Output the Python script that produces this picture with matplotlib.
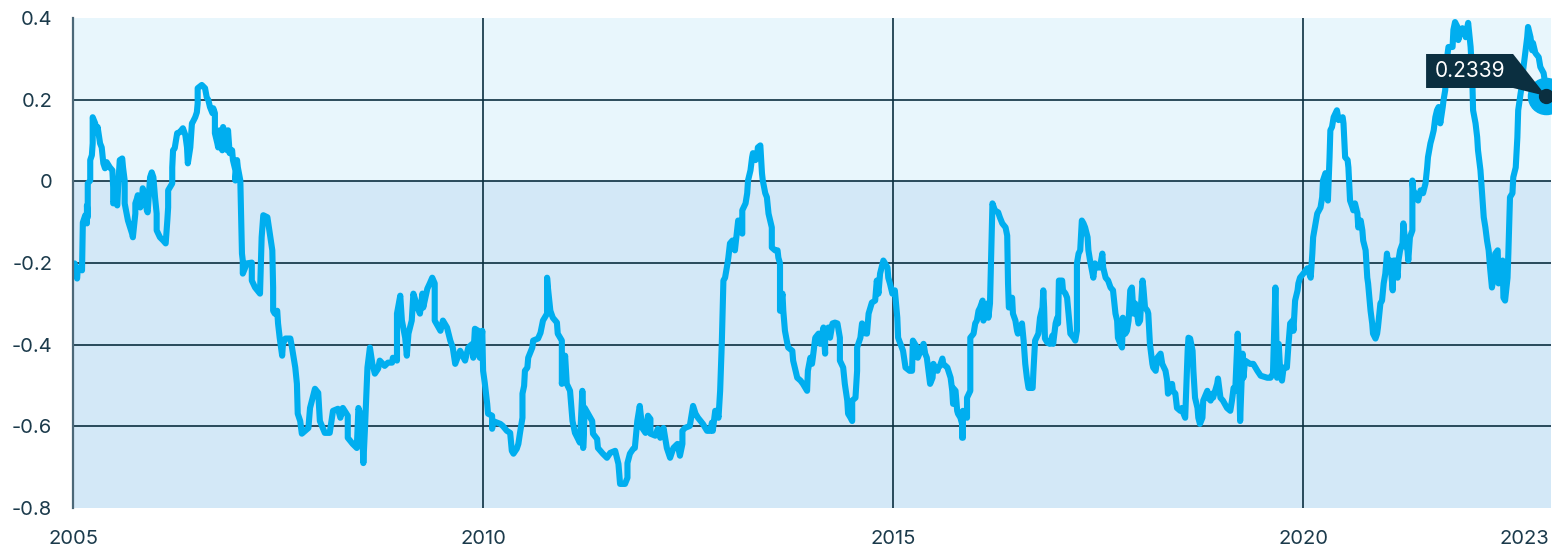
import matplotlib
matplotlib.use("Agg")
import matplotlib.pyplot as plt
import matplotlib.transforms as mtransforms
from matplotlib.patches import Polygon

# rolling correlation (decimal years)
years = [2005.00, 2005.02, 2005.05, 2005.06, 2005.11, 2005.12, 2005.15, 2005.17, 2005.17, 2005.18, 2005.18, 2005.21, 2005.21, 2005.23, 2005.24, 2005.24, 2005.27, 2005.29, 2005.30, 2005.33, 2005.35, 2005.37, 2005.39, 2005.41, 2005.45, 2005.48, 2005.49, 2005.49, 2005.51, 2005.54, 2005.55, 2005.57, 2005.60, 2005.61, 2005.63, 2005.63, 2005.67, 2005.72, 2005.73, 2005.76, 2005.76, 2005.78, 2005.79, 2005.82, 2005.84, 2005.85, 2005.88, 2005.90, 2005.91, 2005.94, 2005.96, 2005.98,
         2006.00, 2006.02, 2006.02, 2006.06, 2006.10, 2006.13, 2006.15, 2006.16, 2006.16, 2006.18, 2006.21, 2006.21, 2006.22, 2006.24, 2006.27, 2006.30, 2006.34, 2006.37, 2006.39, 2006.40, 2006.43, 2006.45, 2006.46, 2006.49, 2006.51, 2006.52, 2006.52, 2006.57, 2006.61, 2006.63, 2006.65, 2006.67, 2006.70, 2006.71, 2006.73, 2006.73, 2006.76, 2006.77, 2006.79, 2006.82, 2006.83, 2006.85, 2006.88, 2006.89, 2006.91, 2006.94, 2006.95, 2006.98, 2006.98,
         2007.00, 2007.01, 2007.04, 2007.06, 2007.07, 2007.07, 2007.12, 2007.18, 2007.18, 2007.22, 2007.28, 2007.30, 2007.32, 2007.37, 2007.43, 2007.44, 2007.44, 2007.46, 2007.49, 2007.50, 2007.52, 2007.55, 2007.56, 2007.59, 2007.65, 2007.67, 2007.71, 2007.73, 2007.74, 2007.77, 2007.79, 2007.87, 2007.89, 2007.95, 2007.99,
         2008.01, 2008.07, 2008.13, 2008.17, 2008.23, 2008.26, 2008.29, 2008.35, 2008.35, 2008.41, 2008.46, 2008.48, 2008.52, 2008.54, 2008.56, 2008.59, 2008.62, 2008.65, 2008.68, 2008.72, 2008.74, 2008.80, 2008.84, 2008.89, 2008.90, 2008.95, 2008.95, 2008.99,
         2009.01, 2009.05, 2009.07, 2009.09, 2009.13, 2009.15, 2009.20, 2009.23, 2009.26, 2009.27, 2009.32, 2009.35, 2009.38, 2009.41, 2009.41, 2009.48, 2009.51, 2009.56, 2009.60, 2009.63, 2009.66, 2009.72, 2009.78, 2009.82, 2009.87, 2009.88, 2009.90, 2009.94, 2009.96, 2009.99,
         2010.00, 2010.02, 2010.05, 2010.06, 2010.11, 2010.11, 2010.12, 2010.17, 2010.21, 2010.24, 2010.29, 2010.33, 2010.35, 2010.37, 2010.41, 2010.43, 2010.45, 2010.48, 2010.48, 2010.50, 2010.51, 2010.54, 2010.55, 2010.60, 2010.61, 2010.67, 2010.70, 2010.73, 2010.78, 2010.78, 2010.79, 2010.82, 2010.85, 2010.90, 2010.91, 2010.96, 2010.96,
         2011.00, 2011.02, 2011.06, 2011.09, 2011.12, 2011.15, 2011.18, 2011.21, 2011.22, 2011.22, 2011.24, 2011.28, 2011.33, 2011.34, 2011.39, 2011.40, 2011.46, 2011.51, 2011.55, 2011.61, 2011.65, 2011.67, 2011.73, 2011.76, 2011.76, 2011.79, 2011.83, 2011.85, 2011.88, 2011.91, 2011.94, 2011.98,
         2012.01, 2012.04, 2012.04, 2012.10, 2012.13, 2012.16, 2012.20, 2012.24, 2012.28, 2012.32, 2012.37, 2012.40, 2012.43, 2012.43, 2012.46, 2012.52, 2012.56, 2012.59, 2012.62, 2012.68, 2012.73, 2012.77, 2012.79, 2012.80, 2012.83, 2012.85, 2012.87, 2012.89, 2012.91, 2012.93, 2012.95, 2012.98, 2012.99,
         2013.01, 2013.04, 2013.05, 2013.07, 2013.10, 2013.11, 2013.13, 2013.16, 2013.16, 2013.20, 2013.22, 2013.23, 2013.26, 2013.28, 2013.29, 2013.32, 2013.34, 2013.35, 2013.38, 2013.40, 2013.41, 2013.44, 2013.46, 2013.48, 2013.50, 2013.52, 2013.52, 2013.56, 2013.59, 2013.60, 2013.62, 2013.62, 2013.65, 2013.66, 2013.68, 2013.71, 2013.72, 2013.77, 2013.78, 2013.83, 2013.87, 2013.90, 2013.95, 2013.96, 2013.99,
         2014.01, 2014.02, 2014.05, 2014.09, 2014.11, 2014.15, 2014.17, 2014.17, 2014.21, 2014.23, 2014.26, 2014.29, 2014.32, 2014.35, 2014.35, 2014.39, 2014.41, 2014.44, 2014.45, 2014.48, 2014.50, 2014.50, 2014.54, 2014.56, 2014.56, 2014.60, 2014.62, 2014.63, 2014.68, 2014.70, 2014.74, 2014.78, 2014.80, 2014.82, 2014.84, 2014.88, 2014.93, 2014.94, 2014.96, 2014.99,
         2015.02, 2015.05, 2015.06, 2015.12, 2015.15, 2015.20, 2015.23, 2015.24, 2015.29, 2015.30, 2015.35, 2015.37, 2015.39, 2015.41, 2015.43, 2015.45, 2015.48, 2015.49, 2015.51, 2015.54, 2015.55, 2015.57, 2015.60, 2015.61, 2015.66, 2015.70, 2015.72, 2015.73, 2015.73, 2015.76, 2015.78, 2015.79, 2015.82, 2015.84, 2015.84, 2015.85, 2015.85, 2015.90, 2015.90, 2015.94, 2015.94, 2015.98,
         2016.00, 2016.02, 2016.04, 2016.06, 2016.09, 2016.10, 2016.12, 2016.15, 2016.16, 2016.18, 2016.21, 2016.24, 2016.28, 2016.30, 2016.33, 2016.37, 2016.39, 2016.40, 2016.41, 2016.45, 2016.46, 2016.49, 2016.51, 2016.52, 2016.57, 2016.59, 2016.61, 2016.63, 2016.65, 2016.70, 2016.71, 2016.73, 2016.77, 2016.79, 2016.82, 2016.83, 2016.84, 2016.85, 2016.88, 2016.91, 2016.94, 2016.95, 2016.98,
         2017.00, 2017.01, 2017.02, 2017.06, 2017.07, 2017.10, 2017.12, 2017.16, 2017.20, 2017.22, 2017.24, 2017.24, 2017.26, 2017.28, 2017.30, 2017.32, 2017.34, 2017.37, 2017.38, 2017.40, 2017.43, 2017.44, 2017.46, 2017.49, 2017.52, 2017.55, 2017.56, 2017.59, 2017.62, 2017.65, 2017.68, 2017.71, 2017.73, 2017.74, 2017.77, 2017.79, 2017.80, 2017.83, 2017.85, 2017.87, 2017.89, 2017.91, 2017.93, 2017.95, 2017.98, 2017.99,
         2018.01, 2018.04, 2018.05, 2018.07, 2018.10, 2018.11, 2018.13, 2018.16, 2018.17, 2018.20, 2018.22, 2018.26, 2018.28, 2018.32, 2018.34, 2018.35, 2018.38, 2018.40, 2018.41, 2018.44, 2018.46, 2018.50, 2018.52, 2018.54, 2018.56, 2018.59, 2018.60, 2018.62, 2018.65, 2018.66, 2018.68, 2018.71, 2018.72, 2018.74, 2018.77, 2018.78, 2018.83, 2018.84, 2018.87, 2018.89, 2018.90, 2018.95, 2018.96, 2018.99,
         2019.02, 2019.07, 2019.11, 2019.13, 2019.15, 2019.17, 2019.20, 2019.21, 2019.23, 2019.26, 2019.27, 2019.29, 2019.35, 2019.39, 2019.44, 2019.48, 2019.56, 2019.60, 2019.63, 2019.66, 2019.68, 2019.70, 2019.72, 2019.74, 2019.76, 2019.80, 2019.82, 2019.84, 2019.87, 2019.88, 2019.90, 2019.93, 2019.94, 2019.96,
         2020.00, 2020.05, 2020.09, 2020.11, 2020.12, 2020.15, 2020.17, 2020.21, 2020.23, 2020.24, 2020.27, 2020.29, 2020.30, 2020.32, 2020.33, 2020.35, 2020.37, 2020.41, 2020.43, 2020.48, 2020.49, 2020.51, 2020.54, 2020.55, 2020.57, 2020.60, 2020.61, 2020.63, 2020.66, 2020.67, 2020.70, 2020.72, 2020.73, 2020.76, 2020.78, 2020.79, 2020.82, 2020.84, 2020.85, 2020.88, 2020.90, 2020.91, 2020.94, 2020.96, 2020.98,
         2021.00, 2021.02, 2021.04, 2021.06, 2021.09, 2021.10, 2021.12, 2021.15, 2021.16, 2021.18, 2021.21, 2021.22, 2021.24, 2021.27, 2021.28, 2021.30, 2021.33, 2021.33, 2021.34, 2021.39, 2021.40, 2021.43, 2021.46, 2021.49, 2021.51, 2021.52, 2021.55, 2021.57, 2021.59, 2021.61, 2021.63, 2021.65, 2021.67, 2021.70, 2021.71, 2021.73, 2021.76, 2021.77, 2021.82, 2021.83, 2021.85, 2021.88, 2021.89, 2021.91, 2021.94, 2021.95, 2021.98,
         2022.00, 2022.01, 2022.04, 2022.06, 2022.07, 2022.10, 2022.12, 2022.13, 2022.16, 2022.18, 2022.20, 2022.22, 2022.24, 2022.26, 2022.28, 2022.30, 2022.32, 2022.34, 2022.37, 2022.38, 2022.40, 2022.43, 2022.44, 2022.46, 2022.49, 2022.50, 2022.52, 2022.55, 2022.56, 2022.59, 2022.61, 2022.62, 2022.65, 2022.67, 2022.68, 2022.71, 2022.73, 2022.74, 2022.77, 2022.79, 2022.80, 2022.83, 2022.87, 2022.89, 2022.93, 2022.945, 2022.96]

corr = [-0.205, -0.201, -0.238, -0.211, -0.218, -0.101, -0.083, -0.103, -0.059, -0.088, -0.005, 0.002, 0.052, 0.064, 0.093, 0.157, 0.142, 0.118, 0.133, 0.093, 0.083, 0.044, 0.032, 0.047, 0.034, 0.027, -0.015, -0.054, -0.047, -0.059, -0.015, 0.052, 0.056, 0.034, 0.002, -0.054, -0.096, -0.128, -0.137, -0.079, -0.054, -0.042, -0.034, -0.064, -0.054, -0.017, -0.034, -0.071, -0.076, 0.010, 0.022, 0.010,
        -0.039, -0.079, -0.120, -0.137, -0.145, -0.152, -0.096, -0.064, -0.022, -0.015, -0.005, 0.034, 0.076, 0.081, 0.118, 0.120, 0.130, 0.113, 0.083, 0.044, 0.083, 0.142, 0.145, 0.157, 0.169, 0.191, 0.228, 0.236, 0.228, 0.206, 0.199, 0.182, 0.167, 0.179, 0.167, 0.118, 0.093, 0.083, 0.125, 0.076, 0.133, 0.101, 0.076, 0.125, 0.069, 0.076, 0.052, 0.027, 0.002,
        0.052, 0.034, 0.002, -0.177, -0.194, -0.226, -0.201, -0.199, -0.243, -0.260, -0.275, -0.137, -0.083, -0.088, -0.169, -0.260, -0.317, -0.324, -0.317, -0.348, -0.383, -0.427, -0.398, -0.385, -0.385, -0.407, -0.456, -0.496, -0.569, -0.587, -0.618, -0.604, -0.555, -0.508, -0.518,
        -0.587, -0.616, -0.616, -0.562, -0.557, -0.579, -0.555, -0.574, -0.628, -0.643, -0.653, -0.555, -0.579, -0.690, -0.604, -0.456, -0.407, -0.447, -0.471, -0.459, -0.439, -0.452, -0.444, -0.444, -0.432, -0.439, -0.324, -0.280,
        -0.341, -0.383, -0.427, -0.373, -0.341, -0.275, -0.309, -0.324, -0.275, -0.309, -0.263, -0.250, -0.236, -0.250, -0.341, -0.366, -0.341, -0.358, -0.390, -0.407, -0.447, -0.415, -0.439, -0.407, -0.398, -0.432, -0.361, -0.366, -0.432, -0.366,
        -0.464, -0.493, -0.545, -0.569, -0.574, -0.606, -0.587, -0.591, -0.594, -0.599, -0.611, -0.616, -0.660, -0.667, -0.655, -0.643, -0.616, -0.579, -0.520, -0.501, -0.464, -0.456, -0.432, -0.407, -0.390, -0.385, -0.371, -0.341, -0.324, -0.236, -0.260, -0.317, -0.334, -0.346, -0.373, -0.390, -0.496,
        -0.427, -0.496, -0.513, -0.587, -0.616, -0.628, -0.640, -0.513, -0.555, -0.653, -0.555, -0.569, -0.587, -0.618, -0.631, -0.653, -0.667, -0.677, -0.665, -0.660, -0.692, -0.741, -0.741, -0.726, -0.690, -0.667, -0.655, -0.653, -0.587, -0.550, -0.604, -0.616,
        -0.574, -0.582, -0.618, -0.623, -0.606, -0.628, -0.604, -0.653, -0.677, -0.653, -0.643, -0.672, -0.643, -0.611, -0.604, -0.599, -0.550, -0.569, -0.579, -0.594, -0.611, -0.611, -0.591, -0.611, -0.562, -0.562, -0.579, -0.513, -0.398, -0.243, -0.236, -0.201, -0.187,
        -0.152, -0.145, -0.162, -0.169, -0.113, -0.096, -0.120, -0.128, -0.071, -0.054, -0.029, 0.002, 0.027, 0.059, 0.069, 0.052, 0.059, 0.083, 0.088, 0.020, 0.002, -0.029, -0.039, -0.079, -0.096, -0.113, -0.162, -0.169, -0.169, -0.187, -0.201, -0.317, -0.275, -0.317, -0.366, -0.398, -0.407, -0.415, -0.439, -0.481, -0.488, -0.496, -0.513, -0.464, -0.432,
        -0.447, -0.432, -0.383, -0.373, -0.398, -0.358, -0.422, -0.373, -0.358, -0.383, -0.348, -0.346, -0.348, -0.383, -0.439, -0.456, -0.496, -0.537, -0.569, -0.579, -0.587, -0.537, -0.530, -0.464, -0.407, -0.383, -0.348, -0.371, -0.373, -0.324, -0.297, -0.292, -0.243, -0.275, -0.226, -0.194, -0.211, -0.236, -0.250, -0.275,
        -0.267, -0.334, -0.383, -0.415, -0.456, -0.464, -0.464, -0.390, -0.407, -0.432, -0.407, -0.398, -0.422, -0.432, -0.464, -0.496, -0.481, -0.447, -0.456, -0.464, -0.456, -0.452, -0.434, -0.447, -0.456, -0.481, -0.513, -0.545, -0.506, -0.513, -0.562, -0.569, -0.579, -0.594, -0.628, -0.628, -0.562, -0.579, -0.530, -0.513, -0.383, -0.373,
        -0.348, -0.341, -0.317, -0.309, -0.292, -0.341, -0.317, -0.299, -0.334, -0.299, -0.054, -0.071, -0.076, -0.088, -0.103, -0.113, -0.133, -0.250, -0.309, -0.285, -0.324, -0.341, -0.366, -0.373, -0.348, -0.390, -0.447, -0.481, -0.506, -0.506, -0.464, -0.390, -0.373, -0.334, -0.309, -0.267, -0.309, -0.385, -0.395, -0.398, -0.378, -0.398, -0.348,
        -0.334, -0.348, -0.243, -0.243, -0.267, -0.275, -0.285, -0.373, -0.383, -0.390, -0.366, -0.201, -0.177, -0.169, -0.096, -0.103, -0.113, -0.137, -0.169, -0.194, -0.226, -0.236, -0.201, -0.211, -0.211, -0.177, -0.211, -0.236, -0.243, -0.260, -0.267, -0.324, -0.341, -0.383, -0.398, -0.407, -0.334, -0.373, -0.366, -0.341, -0.267, -0.260, -0.324, -0.299, -0.334, -0.348,
        -0.341, -0.243, -0.260, -0.309, -0.317, -0.324, -0.398, -0.447, -0.456, -0.464, -0.432, -0.422, -0.447, -0.464, -0.488, -0.520, -0.513, -0.496, -0.513, -0.520, -0.555, -0.562, -0.555, -0.569, -0.579, -0.415, -0.383, -0.385, -0.415, -0.464, -0.530, -0.555, -0.579, -0.594, -0.579, -0.537, -0.513, -0.530, -0.537, -0.520, -0.530, -0.496, -0.483, -0.530,
        -0.537, -0.555, -0.562, -0.537, -0.506, -0.513, -0.373, -0.415, -0.587, -0.422, -0.481, -0.439, -0.447, -0.447, -0.464, -0.476, -0.481, -0.481, -0.471, -0.260, -0.481, -0.398, -0.471, -0.488, -0.456, -0.456, -0.398, -0.348, -0.341, -0.366, -0.292, -0.267, -0.250, -0.236,
        -0.226, -0.213, -0.236, -0.177, -0.137, -0.103, -0.079, -0.064, -0.039, 0.002, 0.020, 0.010, -0.047, 0.059, 0.125, 0.133, 0.157, 0.174, 0.150, 0.157, 0.142, 0.059, 0.052, 0.034, -0.047, -0.064, -0.071, -0.054, -0.079, -0.113, -0.096, -0.120, -0.145, -0.169, -0.236, -0.250, -0.317, -0.348, -0.373, -0.385, -0.373, -0.358, -0.299, -0.292, -0.250,
        -0.226, -0.177, -0.218, -0.194, -0.267, -0.194, -0.194, -0.236, -0.194, -0.169, -0.152, -0.103, -0.145, -0.169, -0.194, -0.137, -0.120, 0.002, -0.022, -0.039, -0.047, -0.022, -0.029, -0.005, 0.034, 0.059, 0.093, 0.108, 0.125, 0.157, 0.174, 0.182, 0.142, 0.182, 0.199, 0.223, 0.314, 0.329, 0.329, 0.371, 0.390, 0.378, 0.346, 0.363, 0.375, 0.371, 0.353,
        0.378, 0.388, 0.329, 0.255, 0.174, 0.142, 0.108, 0.076, 0.027, -0.029, -0.088, -0.113, -0.145, -0.169, -0.218, -0.260, -0.236, -0.177, -0.169, -0.250, -0.211, -0.194, -0.285, -0.292, -0.236, -0.177, -0.039, -0.029, 0.010, 0.034, 0.108, 0.174, 0.216, 0.240, 0.272, 0.321, 0.353, 0.378, 0.353, 0.321, 0.339, 0.314, 0.304, 0.280, 0.265, 0.245, 0.209]

x_ticks = [2005, 2010, 2015, 2020, 2023]
x_labels = ["2005", "2010", "2015", "2020", "2023"]
y_ticks = [-0.8, -0.6, -0.4, -0.2, 0, 0.2, 0.4]
y_labels = ["-0.8", "-0.6", "-0.4", "-0.2", "0", "0.2", "0.4"]
callout_text = "0.2339"

# colours
LINE = "#00AEEF"
NAVY = "#0B2F40"
TEXT = "#1B3A4B"

plt.rcParams["font.family"] = ["Inter", "DejaVu Sans"]

fig = plt.figure(figsize=(15.52, 5.48), dpi=100)
ax = fig.add_axes([73 / 1552, 40 / 548, 1478 / 1552, 490 / 548])
ax.set_xlim(2005, 2023.02)
ax.set_ylim(-0.8, 0.4)

# two shaded bands above / below zero
ax.axhspan(0, 0.4, color="#E8F6FC", zorder=0)
ax.axhspan(-0.8, 0, color="#D3E8F7", zorder=0)

for yv in y_ticks[1:-1]:
    ax.axhline(yv, color=NAVY, lw=1.2, zorder=1)
for xv in x_ticks[1:-1]:
    ax.axvline(xv, color=NAVY, lw=1.2, zorder=1)

ax.plot(years, corr, color=LINE, lw=4.4, solid_joinstyle="round", solid_capstyle="round", zorder=3)

for side in ["top", "right", "bottom"]:
    ax.spines[side].set_visible(False)
ax.spines["left"].set_color("#4C6878")
ax.spines["left"].set_linewidth(1.6)
ax.spines["left"].set_zorder(4)

ax.set_xticks(x_ticks)
ax.set_xticklabels(x_labels)
ax.set_yticks(y_ticks)
ax.set_yticklabels(y_labels)
ax.tick_params(axis="both", length=0, labelsize=14.5, labelcolor=TEXT)
ax.tick_params(axis="y", pad=15)
ax.tick_params(axis="x", pad=16)
ax.get_xticklabels()[-1].set_horizontalalignment("right")

# callout on the last point
x_last, y_last = years[-1], corr[-1]
ax.plot([x_last], [y_last], "o", ms=26, color=LINE, zorder=5)
trans = fig.dpi_scale_trans + mtransforms.ScaledTranslation(x_last, y_last, ax.transData)
box = Polygon([(-1.20, 0.08), (-1.20, 0.42), (-0.33, 0.42), (0, 0), (-0.33, 0.08)],
              closed=True, facecolor=NAVY, edgecolor="none", transform=trans, zorder=6, clip_on=False)
ax.add_patch(box)
ax.text(-0.765, 0.25, callout_text, transform=trans, color="white", fontsize=15,
        ha="center", va="center", zorder=7)
ax.plot([x_last], [y_last], "o", ms=10, color=NAVY, zorder=8)

fig.savefig("out.png", dpi=100)
